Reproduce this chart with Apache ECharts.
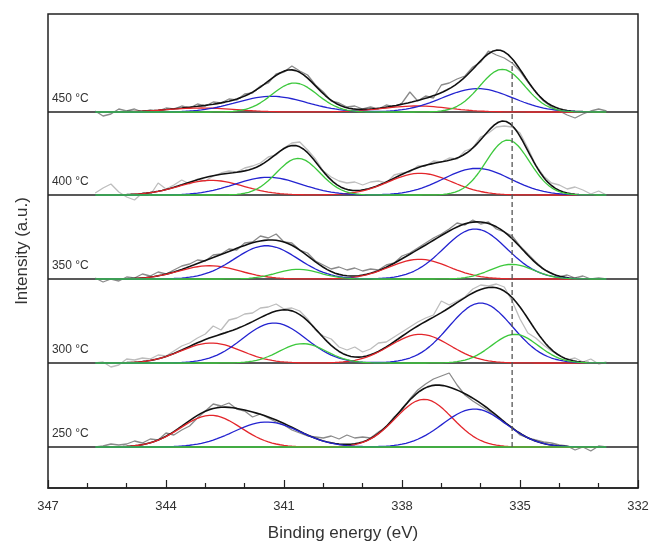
<!DOCTYPE html>
<html><head><meta charset="utf-8">
<script src="https://cdn.jsdelivr.net/npm/echarts@6/dist/echarts.min.js"></script>
<style>html,body{margin:0;padding:0;background:#fff}#c{width:651px;height:543px}</style>
</head><body><div id="c"></div>
<script>
const panelLabels = ['250 °C','300 °C','350 °C','400 °C','450 °C'];
const panelOffsets = [41, 125, 209, 293, 376];
// fitted components: [center eV, height, FWHM eV] for 3d5/2 and 3d3/2
const redPeaks = [
  [[337.44,47.7,1.7],[342.86,31.7,1.8]],
  [[337.54,28.7,1.8],[342.85,20.0,1.8]],
  [[337.56,19.7,1.8],[342.89,13.3,1.8]],
  [[337.54,21.7,1.9],[342.85,14.7,1.9]],
  [[337.63,6.0,2.0],[343.10,4.0,2.0]]
];
const bluePeaks = [
  [[336.16,38.0,1.9],[341.44,25.0,2.0]],
  [[336.00,60.0,1.9],[341.25,40.0,1.9]],
  [[336.14,50.0,1.9],[341.45,33.3,1.9]],
  [[336.10,26.7,2.0],[341.41,17.7,2.0]],
  [[336.08,23.4,2.1],[341.32,15.7,2.1]]
];
const greenPeaks = [
  [[335.20,0,1.3],[340.50,0,1.3]],
  [[335.13,28.7,1.4],[340.52,19.4,1.4]],
  [[335.21,14.7,1.3],[340.64,9.7,1.3]],
  [[335.31,55.0,1.3],[340.64,36.7,1.3]],
  [[335.45,42.7,1.35],[340.73,29.0,1.35]]
];
// measured spectra (raw counts, arbitrary units above each baseline)
const rawEnergy = [345.8,345.6,345.4,345.2,345.0,344.8,344.6,344.4,344.2,344.0,343.8,343.6,343.4,343.2,343.0,342.8,342.6,342.4,342.2,342.0,341.8,341.6,
  341.4,341.2,341.0,340.8,340.6,340.4,340.2,340.0,339.8,339.6,339.4,339.2,339.0,338.8,338.6,338.4,338.2,338.0,337.8,337.6,337.4,337.2,
  337.0,336.8,336.6,336.4,336.2,336.0,335.8,335.6,335.4,335.2,335.0,334.8,334.6,334.4,334.2,334.0,333.8,333.6,333.4,333.2,333.0,332.8];
const raw250 = [0,1,3,2,3,6,4,8,7,14,12,17,21,29,36,43,41,44,38,36,30,33,
  29,25,22,17,14,11,10,9,11,8,12,9,10,9,15,20,30,37,48,57,63,68,
  71,74,62,52,46,41,36,30,24,20,12,9,7,5,4,2,1,-3,0,-4,1,0];
const raw300 = [0,1,-4,-2,4,3,5,4,8,7,12,17,20,25,29,37,33,43,45,49,50,55,
  56,59,54,55,52,44,33,27,24,16,13,16,11,14,20,21,26,31,36,41,45,48,
  62,58,62,66,74,78,77,79,76,62,44,30,25,18,12,8,3,5,1,4,-1,1];
const raw350 = [1,-3,0,-2,2,1,5,3,7,5,9,13,15,19,18,24,25,30,29,36,37,43,
  41,45,37,36,29,26,18,14,10,12,9,11,8,10,9,14,16,23,26,31,36,41,
  45,50,56,54,59,55,57,50,47,43,33,25,17,10,6,2,4,1,3,0,1,0];
const raw400 = [2,7,11,3,-2,-5,2,0,12,6,10,15,11,16,14,19,22,24,23,27,29,32,
  38,40,47,52,53,45,36,24,18,14,12,13,10,13,14,12,20,22,23,29,29,34,
  33,37,36,44,47,58,62,68,69,68,62,47,30,19,12,10,6,8,5,1,4,0];
const raw450 = [1,-4,-2,3,1,3,0,2,1,4,3,6,4,8,6,10,9,13,12,18,19,26,
  29,38,40,46,41,37,27,20,11,9,5,6,3,5,3,7,5,9,20,11,16,14,
  27,29,33,36,45,50,61,57,54,49,41,30,20,11,5,1,-3,-6,-2,1,3,1];
const rawSpectra = [raw250, raw300, raw350, raw400, raw450];
const rawColors = ['#8a8a8a','#bdbdbd','#8a8a8a','#bdbdbd','#8a8a8a'];
const fitRange = [345.8, 332.8];
const refLineEnergy = 335.2;
const refLineTop = 426;

function gauss(x,p){const s=p[2]/2.3548;return p[1]*Math.exp(-(x-p[0])*(x-p[0])/(2*s*s));}
function comp(peaks,x){return peaks.reduce((a,p)=>a+gauss(x,p),0);}
function fitVal(i,x){return comp(redPeaks[i],x)+comp(bluePeaks[i],x)+comp(greenPeaks[i],x);}

const xs=[];for(let x=fitRange[0];x>=fitRange[1]-1e-9;x-=0.05)xs.push(+x.toFixed(2));

const series=[];
const lineBase={type:'line',symbol:'none',silent:true,animation:false};
panelOffsets.forEach((off,i)=>{
  series.push(Object.assign({},lineBase,{z:2,data:[[347,off],[332,off]],lineStyle:{color:'#222',width:1.5}}));
  series.push(Object.assign({},lineBase,{z:3,data:rawEnergy.map((e,k)=>[e,off+rawSpectra[i][k]]),lineStyle:{color:rawColors[i],width:1.3}}));
  series.push(Object.assign({},lineBase,{z:4,data:xs.map(x=>[x,off+fitVal(i,x)]),lineStyle:{color:'#111',width:1.6}}));
  series.push(Object.assign({},lineBase,{z:5,data:xs.map(x=>[x,off+comp(redPeaks[i],x)]),lineStyle:{color:'#e3262b',width:1.3}}));
  series.push(Object.assign({},lineBase,{z:5,data:xs.map(x=>[x,off+comp(bluePeaks[i],x)]),lineStyle:{color:'#2323d0',width:1.3}}));
  series.push(Object.assign({},lineBase,{z:5,data:xs.map(x=>[x,off+comp(greenPeaks[i],x)]),lineStyle:{color:'#3cc83c',width:1.3}}));
});
series.push(Object.assign({},lineBase,{z:6,data:[[refLineEnergy,panelOffsets[0]],[refLineEnergy,refLineTop]],lineStyle:{color:'#555',width:1.3,type:[5,3]}}));

const chart=echarts.init(document.getElementById('c'),null,{renderer:'canvas'});
chart.setOption({
  animation:false,
  grid:{left:48,right:13,top:14,bottom:55,show:true,borderColor:'#222',borderWidth:1.5,backgroundColor:'transparent',outerBoundsMode:'none',containLabel:false},
  xAxis:{type:'value',min:332,max:347,interval:3,inverse:true,
    axisLine:{show:true,lineStyle:{color:'#222',width:1.5}},
    axisTick:{show:true,inside:true,length:8,lineStyle:{color:'#222',width:1.2}},
    minorTick:{show:true,splitNumber:3,length:5,lineStyle:{color:'#222',width:1.2}},
    axisLabel:{color:'#333',fontSize:13,margin:12,fontFamily:'Liberation Sans'},
    splitLine:{show:false},
    name:'Binding energy (eV)',nameLocation:'middle',nameGap:37,
    nameTextStyle:{fontSize:17,color:'#333',fontFamily:'Liberation Sans'}},
  yAxis:{type:'value',min:0,max:474,axisLine:{show:false},axisTick:{show:false},axisLabel:{show:false},splitLine:{show:false},
    name:'Intensity (a.u.)',nameLocation:'middle',nameGap:17,
    nameTextStyle:{fontSize:17,color:'#333',fontFamily:'Liberation Sans'}},
  series:series
});
const graphics=panelOffsets.map((off,i)=>{
  const p=chart.convertToPixel({gridIndex:0},[346.9,off]);
  return {type:'text',x:p[0],y:p[1]-13.5,style:{text:panelLabels[i],fill:'#333',font:'12px Liberation Sans',textVerticalAlign:'middle',textAlign:'left'},silent:true,z:10};
});
chart.setOption({graphic:graphics});
</script></body></html>
